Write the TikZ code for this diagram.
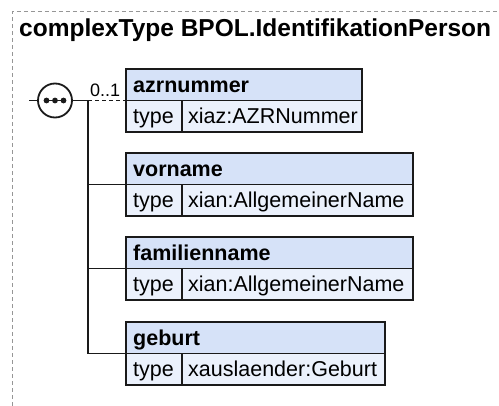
\documentclass[tikz,border=0pt]{standalone}
\usepackage{fontspec}
\setmainfont{Liberation Sans}
\definecolor{hfill}{RGB}{214,226,248}
\definecolor{rfill}{RGB}{235,241,252}
\definecolor{bcol}{RGB}{26,26,26}
\definecolor{fcol}{RGB}{150,150,150}
\tikzset{
  cellbox/.style={draw=bcol, line width=1.8pt, anchor=north west, inner sep=0pt, outer sep=0pt, minimum height=31.5pt},
  hdrbox/.style={cellbox, fill=hfill},
  rowbox/.style={cellbox, fill=rfill},
  lbl/.style={anchor=base west, inner sep=0pt, font=\fontsize{21.5pt}{25pt}\selectfont, text=black},
  blbl/.style={lbl, font=\bfseries\fontsize{21.5pt}{25pt}\selectfont},
  conn/.style={draw=bcol, line width=1.6pt},
  optconn/.style={conn, dash pattern=on 4pt off 3pt},
  framestyle/.style={draw=fcol, line width=1pt, dash pattern=on 4pt off 3pt},
}
% #1 name, #2 top y, #3 total width, #4 value width, #5 element name, #6 type
\newcommand{\xselem}[6]{%
  \node[hdrbox, minimum width=#3pt] (#1h) at (126,#2) {};
  \node[rowbox, minimum width=56pt] (#1t) at (#1h.south west) {};
  \node[rowbox, minimum width=#4pt] (#1v) at (#1t.north east) {};
  \node[blbl] (#1hl) at ([xshift=7pt,yshift=-7.7pt]#1h.west) {#5};
  \node[lbl] (#1tl) at ([xshift=7pt,yshift=-7.7pt]#1t.west) {type};
  \node[lbl] (#1vl) at ([xshift=6pt,yshift=-7.7pt]#1v.west) {#6};
}
\begin{document}
\begin{tikzpicture}[x=1pt, y=-1pt]
\useasboundingbox (0,0) rectangle (499,406);
\draw[framestyle] (12,406) -- (12,12) -- (499,12);
\node[anchor=base west, inner sep=0pt, font=\bfseries\fontsize{24.5pt}{28pt}\selectfont] (title) at (19,37) {complexType BPOL.IdentifikationPerson};

\xselem{az}{69}{236}{180}{azrnummer}{xiaz:AZRNummer}
\xselem{vo}{153}{287}{231}{vorname}{xian:AllgemeinerName}
\xselem{fa}{237}{287}{231}{familienname}{xian:AllgemeinerName}
\xselem{ge}{322}{259}{203}{geburt}{xauslaender:Geburt}

\node[circle, draw=bcol, line width=1.8pt, fill=white, minimum size=34pt, inner sep=0pt] (seq) at (55,100.5) {};
\draw[conn] ([xshift=-11pt]seq.center) -- ([xshift=11pt]seq.center);
\fill[bcol] ([xshift=-8.5pt]seq.center) circle (2.9pt);
\fill[bcol] (seq.center) circle (2.9pt);
\fill[bcol] ([xshift=8.5pt]seq.center) circle (2.9pt);

\coordinate (src) at (29,100.5);
\coordinate (jn) at (88,100.5);
\draw[conn] (src) -- (seq.west);
\draw[conn] (seq.east) -- (jn);
\draw[optconn] (jn) -- (azh.south west);
\draw[conn] (jn) |- (geh.south west);
\draw[conn] (jn |- voh.south west) -- (voh.south west);
\draw[conn] (jn |- fah.south west) -- (fah.south west);
\node[anchor=base west, inner sep=0pt, font=\fontsize{18pt}{20pt}\selectfont] (card) at (90,97) {0..1};
\end{tikzpicture}
\end{document}
